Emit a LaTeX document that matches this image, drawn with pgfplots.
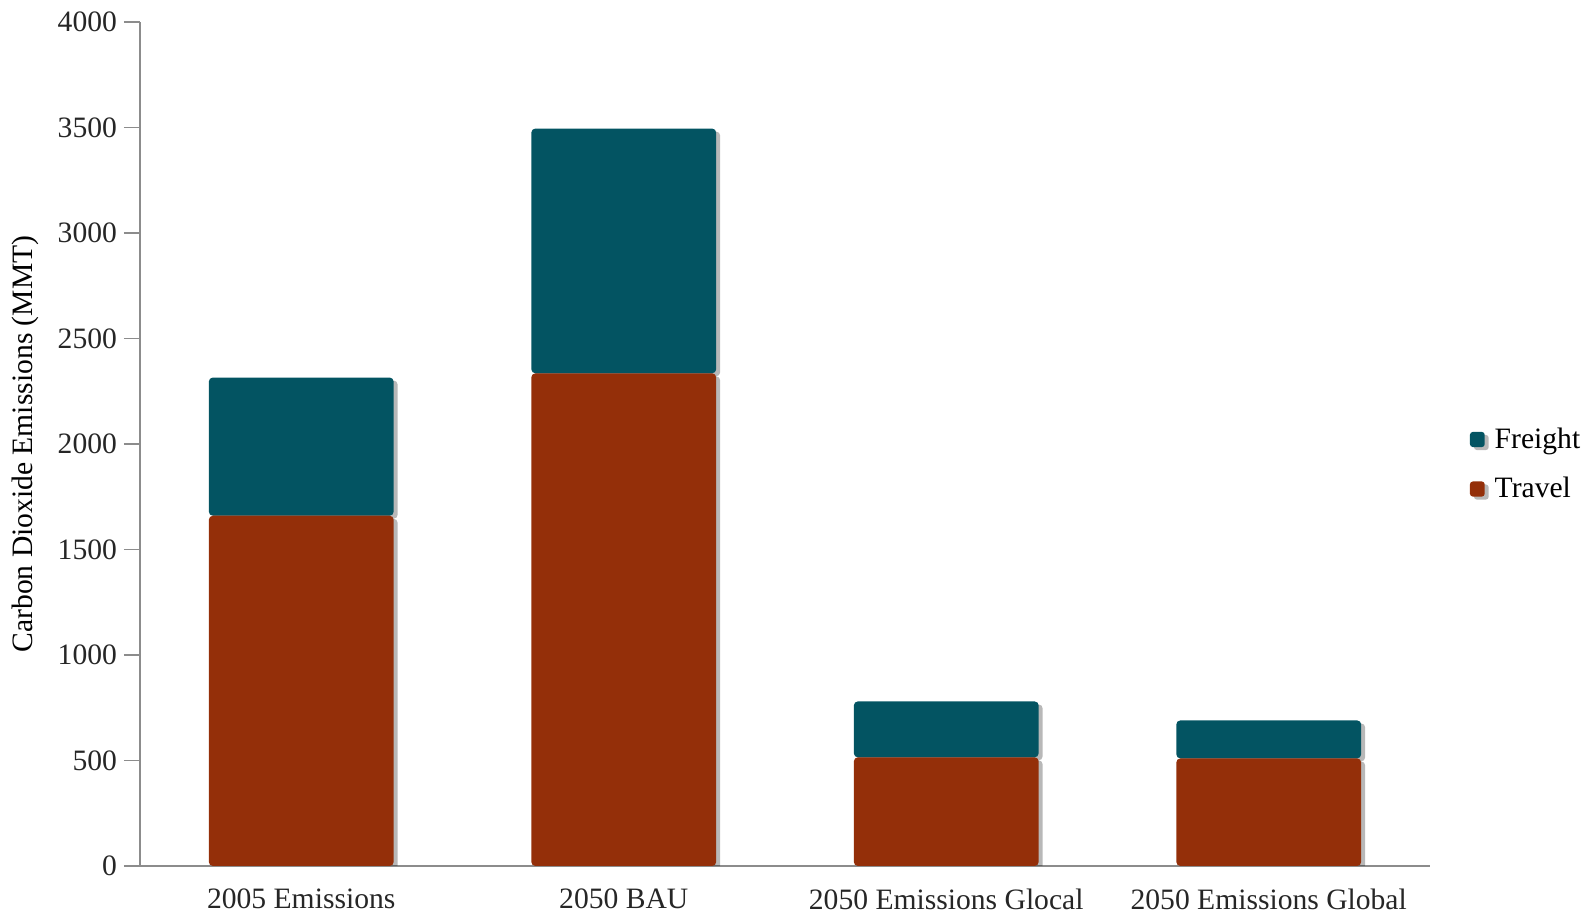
\documentclass[border=0pt]{standalone}
\usepackage{fontspec}
\setmainfont{Liberation Serif}
\usepackage{pgfplots}
\pgfplotsset{compat=1.18}
\usetikzlibrary{shadows}
\definecolor{freight}{HTML}{035462}
\definecolor{travel}{HTML}{942F09}
\definecolor{axgray}{HTML}{8C8C8C}
\begin{document}
\begin{tikzpicture}
\useasboundingbox (-70pt,-24.5pt) rectangle (725.5pt,433pt);
\begin{axis}[
  at={(0,0)}, anchor=south west,
  scale only axis, width=645pt, height=422pt,
  ybar stacked, bar width=0.573,
  xmin=-0.5, xmax=3.5, ymin=0, ymax=4000,
  xtick=data,
  xticklabels={2005 Emissions,2050 BAU,2050 Emissions Glocal,2050 Emissions Global},
  ytick={0,500,...,4000},
  axis lines*=left,
  axis line style={axgray, line width=0.8pt, -},
  tick style={axgray, line width=0.8pt},
  major tick length=8pt, tick align=outside,
  xtick style={draw=none},
  xtick pos=bottom, ytick pos=left,
  /pgf/number format/assume math mode=true,
  /pgf/number format/1000 sep={},
  tick label style={font=\fontsize{14.8}{17}\selectfont, text=black!85},
  xticklabel style={yshift=0pt},
  ylabel={Carbon Dioxide Emissions (MMT)},
  ylabel style={font=\fontsize{14.8}{17}\selectfont, at={(axis description cs:-0.089,0.5)}, anchor=center, rotate=0},
  legend style={draw=none, fill=none, at={(axis description cs:1.026,0.476)}, anchor=west,
    font=\fontsize{14.8}{17}\selectfont, row sep=9pt, legend cell align=left,
    /tikz/every odd column/.append style={column sep=3pt}},
  reverse legend,
  legend image code/.code={\fill[#1, rounded corners=1.5pt] (0pt,-3.8pt) rectangle (7.4pt,3.8pt);},
]
\addplot[fill=travel, draw=none, rounded corners=2pt,
  drop shadow={shadow xshift=2pt, shadow yshift=-1.5pt, fill=black, opacity=0.28}]
  coordinates {(0,1660) (1,2335) (2,515) (3,510)};
\addlegendentry{Travel}
\addplot[fill=freight, draw=none, rounded corners=2pt,
  drop shadow={shadow xshift=2pt, shadow yshift=-1.5pt, fill=black, opacity=0.28}]
  coordinates {(0,655) (1,1160) (2,265) (3,180)};
\addlegendentry{Freight}
\end{axis}
\end{tikzpicture}
\end{document}
